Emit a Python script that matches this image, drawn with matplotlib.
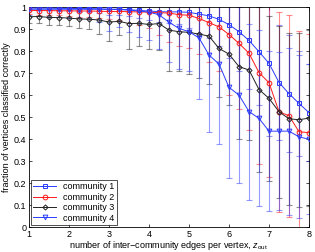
import numpy as np
import matplotlib
matplotlib.use('Agg')
import matplotlib.pyplot as plt

# z_out values
z_out = np.arange(1, 8.01, 0.25)

# mean fraction classified correctly for each community
comm1 = [0.995, 0.995, 0.995, 0.994, 0.994, 0.993, 0.993, 0.992, 0.990, 0.990,
         0.988, 0.985, 0.982, 0.979, 0.978, 0.978, 0.976, 0.968, 0.960, 0.944,
         0.920, 0.888, 0.848, 0.797, 0.744, 0.657, 0.606, 0.562, 0.520]
comm2 = [0.985, 0.984, 0.984, 0.983, 0.983, 0.982, 0.982, 0.981, 0.980, 0.980,
         0.979, 0.978, 0.977, 0.974, 0.973, 0.965, 0.963, 0.948, 0.929, 0.910,
         0.875, 0.835, 0.790, 0.702, 0.656, 0.524, 0.506, 0.433, 0.429]
comm3 = [0.956, 0.957, 0.953, 0.952, 0.950, 0.946, 0.945, 0.941, 0.932, 0.935,
         0.925, 0.926, 0.921, 0.925, 0.895, 0.888, 0.885, 0.877, 0.868, 0.812,
         0.786, 0.729, 0.714, 0.625, 0.585, 0.524, 0.492, 0.488, 0.495]
comm4 = [0.990, 0.990, 0.990, 0.990, 0.990, 0.990, 0.990, 0.990, 0.990, 0.989,
         0.986, 0.982, 0.977, 0.965, 0.931, 0.903, 0.888, 0.860, 0.782, 0.741,
         0.635, 0.600, 0.525, 0.494, 0.436, 0.436, 0.436, 0.410, 0.399]

# standard deviations (error bars)
err1 = [0.010, 0.010, 0.010, 0.012, 0.012, 0.015, 0.015, 0.018, 0.025, 0.025,
        0.030, 0.035, 0.040, 0.045, 0.050, 0.055, 0.070, 0.085, 0.100, 0.120,
        0.150, 0.180, 0.220, 0.240, 0.330, 0.260, 0.265, 0.240, 0.220]
err2 = [0.015, 0.018, 0.020, 0.020, 0.022, 0.025, 0.028, 0.030, 0.035, 0.040,
        0.050, 0.060, 0.070, 0.100, 0.130, 0.140, 0.150, 0.160, 0.180, 0.200,
        0.275, 0.300, 0.350, 0.416, 0.430, 0.455, 0.460, 0.460, 0.450]
err3 = [0.030, 0.030, 0.033, 0.035, 0.036, 0.040, 0.045, 0.065, 0.088, 0.060,
        0.115, 0.105, 0.110, 0.120, 0.185, 0.180, 0.190, 0.200, 0.220, 0.220,
        0.230, 0.330, 0.320, 0.375, 0.375, 0.390, 0.390, 0.395, 0.400]
err4 = [0.026, 0.030, 0.035, 0.035, 0.040, 0.040, 0.045, 0.060, 0.100, 0.080,
        0.100, 0.117, 0.127, 0.157, 0.180, 0.185, 0.180, 0.280, 0.350, 0.364,
        0.410, 0.400, 0.400, 0.400, 0.363, 0.360, 0.380, 0.370, 0.340]

labels = ['community 1', 'community 2', 'community 3', 'community 4']
means = [comm1, comm2, comm3, comm4]
errs = [err1, err2, err3, err4]
colors = ['#2a3cff', '#ff1a1a', '#222222', '#2a3cff']
markers = ['s', 'o', 'D', 'v']
msizes = [3.2, 3.4, 2.6, 3.4]

plt.rcParams['font.family'] = ['Liberation Sans', 'DejaVu Sans']
plt.rcParams['font.size'] = 6
plt.rcParams['mathtext.fontset'] = 'custom'
plt.rcParams['mathtext.rm'] = 'Liberation Sans'
plt.rcParams['mathtext.it'] = 'Liberation Sans:italic'

fig = plt.figure(figsize=(3.15, 2.52), dpi=100)
ax = fig.add_axes([0.092, 0.099, 0.889, 0.873])

for m, e, c, mk, ms, lab in zip(means, errs, colors, markers, msizes, labels):
    ax.errorbar(z_out, m, yerr=e, fmt='none', ecolor=c, elinewidth=0.8,
                capsize=2, capthick=0.8, alpha=0.5, zorder=2)
    ax.plot(z_out, m, color=c, marker=mk, markersize=ms, markerfacecolor='none',
            markeredgewidth=0.7, linewidth=0.7, label=lab, zorder=3)

ax.set_xlim(1, 8)
ax.set_ylim(0, 1)
ax.set_xticks(range(1, 9))
ax.set_yticks(np.arange(0, 1.01, 0.1))
ax.set_yticklabels(['0', '0.1', '0.2', '0.3', '0.4', '0.5', '0.6', '0.7',
                    '0.8', '0.9', '1'])
ax.tick_params(direction='in', top=True, right=True, length=2.5, width=0.5,
               pad=2, labelsize=6.5)
for s in ax.spines.values():
    s.set_linewidth(0.6)

ax.set_xlabel('number of inter\u2212community edges per vertex, $z_{\\mathrm{out}}$',
              fontsize=6.5, labelpad=0)
ax.set_ylabel('fraction of vertices classified correctly', fontsize=6.5, labelpad=2)

leg = ax.legend(loc='lower left', fontsize=6.5, frameon=True, fancybox=False,
                edgecolor='black', handlelength=2.5, borderpad=0.3,
                labelspacing=0.15, borderaxespad=0.2)
leg.get_frame().set_linewidth(0.6)

fig.savefig('out.png', dpi=100)
